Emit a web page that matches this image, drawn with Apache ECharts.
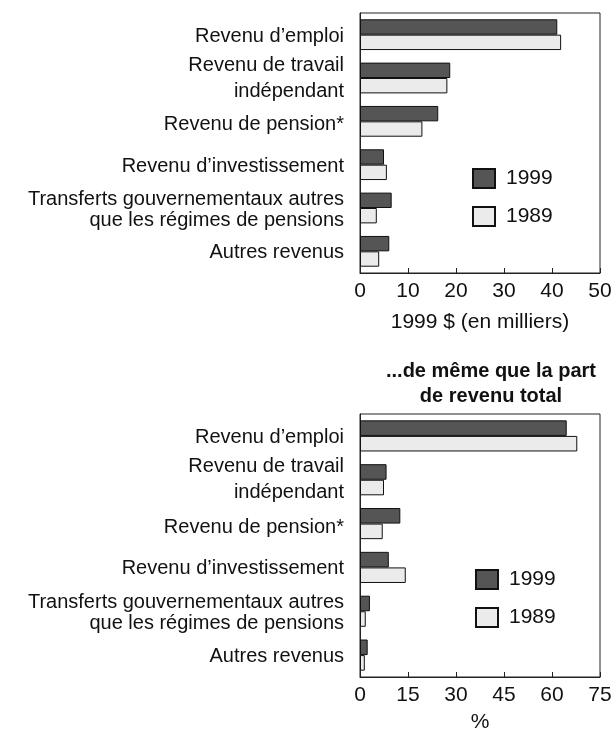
<!DOCTYPE html>
<html>
<head>
<meta charset="utf-8">
<script src="https://cdn.jsdelivr.net/npm/echarts@6/dist/echarts.min.js"></script>
<style>
  html, body { margin: 0; padding: 0; background: #fff; }
  #chart { width: 613px; height: 730px; }
</style>
</head>
<body>
<div id="chart"></div>
<script>
// Income sources, 1999 vs 1989
const categories = [
  'Revenu d’emploi',
  'Revenu de travail\nindépendant',
  'Revenu de pension*',
  'Revenu d’investissement',
  'Transferts gouvernementaux autres\nque les régimes de pensions',
  'Autres revenus'
];
const seriesNames = ['1999', '1989'];

// Average amounts, 1999 $ (thousands)
const amount1999 = [41.1, 18.8, 16.3, 5.0, 6.6, 6.1];
const amount1989 = [41.9, 18.2, 13.0, 5.6, 3.5, 4.0];

// Share of total income (%)
const share1999 = [64.6, 8.3, 12.6, 9.0, 3.1, 2.4];
const share1989 = [67.9, 7.5, 7.1, 14.3, 1.8, 1.5];

const amountTicks = { min: 0, max: 50, interval: 10 };
const shareTicks = { min: 0, max: 75, interval: 15 };

const FONT = '"Liberation Sans", Arial, sans-serif';
const DARK = '#555555';
const LIGHT = '#ebebeb';
const INK = '#111';

// Category labels: two-line labels get their own line spacing,
// the pension label sits slightly lower in its band.
function labelFormatter(v) {
  let style = 'n';
  if (v.indexOf('travail') >= 0) style = 'w';
  else if (v.indexOf('pension*') >= 0) style = 'p';
  return v.split('\n').map(s => '{' + style + '|' + s + '}').join('\n');
}

const labelRich = {
  w: { fontFamily: FONT, fontSize: 20, color: INK, lineHeight: 26 },
  n: { fontFamily: FONT, fontSize: 20, color: INK, lineHeight: 21, padding: [3, 0, 0, 0] },
  p: { fontFamily: FONT, fontSize: 20, color: INK, lineHeight: 21, padding: [7, 0, 0, 0] }
};

function yAxisFor(gridIndex) {
  return {
    type: 'category',
    gridIndex: gridIndex,
    data: categories,
    inverse: true,
    axisLine: { lineStyle: { color: '#222', width: 1 } },
    axisTick: { show: false },
    axisLabel: {
      margin: 16,
      color: INK,
      fontFamily: FONT,
      fontSize: 20,
      formatter: labelFormatter,
      rich: labelRich
    }
  };
}

function xAxisFor(gridIndex, ticks, name, gap) {
  return {
    type: 'value',
    gridIndex: gridIndex,
    min: ticks.min,
    max: ticks.max,
    interval: ticks.interval,
    name: name,
    nameLocation: 'middle',
    nameGap: gap,
    nameTextStyle: { fontFamily: FONT, fontSize: 21, color: INK },
    axisLine: { show: true, lineStyle: { color: '#222', width: 1 } },
    axisTick: { show: true, inside: true, length: 5, lineStyle: { color: '#222' } },
    axisLabel: { margin: 8, fontFamily: FONT, fontSize: 21, color: INK },
    splitLine: { show: false }
  };
}

function barSeries(name, data, color, idx) {
  return {
    type: 'bar',
    name: name,
    xAxisIndex: idx,
    yAxisIndex: idx,
    data: data,
    barGap: '0%',
    barCategoryGap: '29%',
    itemStyle: { color: color, borderColor: INK, borderWidth: 1 },
    emphasis: { disabled: true }
  };
}

function legendAt(left, top) {
  return {
    data: seriesNames,
    orient: 'vertical',
    left: left,
    top: top,
    icon: 'rect',
    itemWidth: 22,
    itemHeight: 19,
    itemGap: 17,
    selectedMode: false,
    textStyle: { fontFamily: FONT, fontSize: 21, color: INK, padding: [0, 0, 0, 6] }
  };
}

const chart = echarts.init(document.getElementById('chart'), null, { renderer: 'canvas' });
chart.setOption({
  animation: false,
  title: {
    text: '...de même que la part\nde revenu total',
    left: 486,
    top: 354,
    textAlign: 'center',
    textStyle: { fontFamily: FONT, fontSize: 20, fontWeight: 'bold', color: INK, lineHeight: 25 }
  },
  legend: [legendAt(467, 163), legendAt(470, 564)],
  grid: [
    { left: 360, right: 13, top: 13, height: 260, outerBoundsMode: 'none',
      show: true, borderColor: '#222', borderWidth: 1 },
    { left: 360, right: 13, top: 414, height: 263, outerBoundsMode: 'none',
      show: true, borderColor: '#222', borderWidth: 1 }
  ],
  xAxis: [
    xAxisFor(0, amountTicks, '1999 $ (en milliers)', 39),
    xAxisFor(1, shareTicks, '%', 35)
  ],
  yAxis: [yAxisFor(0), yAxisFor(1)],
  series: [
    barSeries(seriesNames[0], amount1999, DARK, 0),
    barSeries(seriesNames[1], amount1989, LIGHT, 0),
    barSeries(seriesNames[0], share1999, DARK, 1),
    barSeries(seriesNames[1], share1989, LIGHT, 1)
  ]
});
</script>
</body>
</html>
